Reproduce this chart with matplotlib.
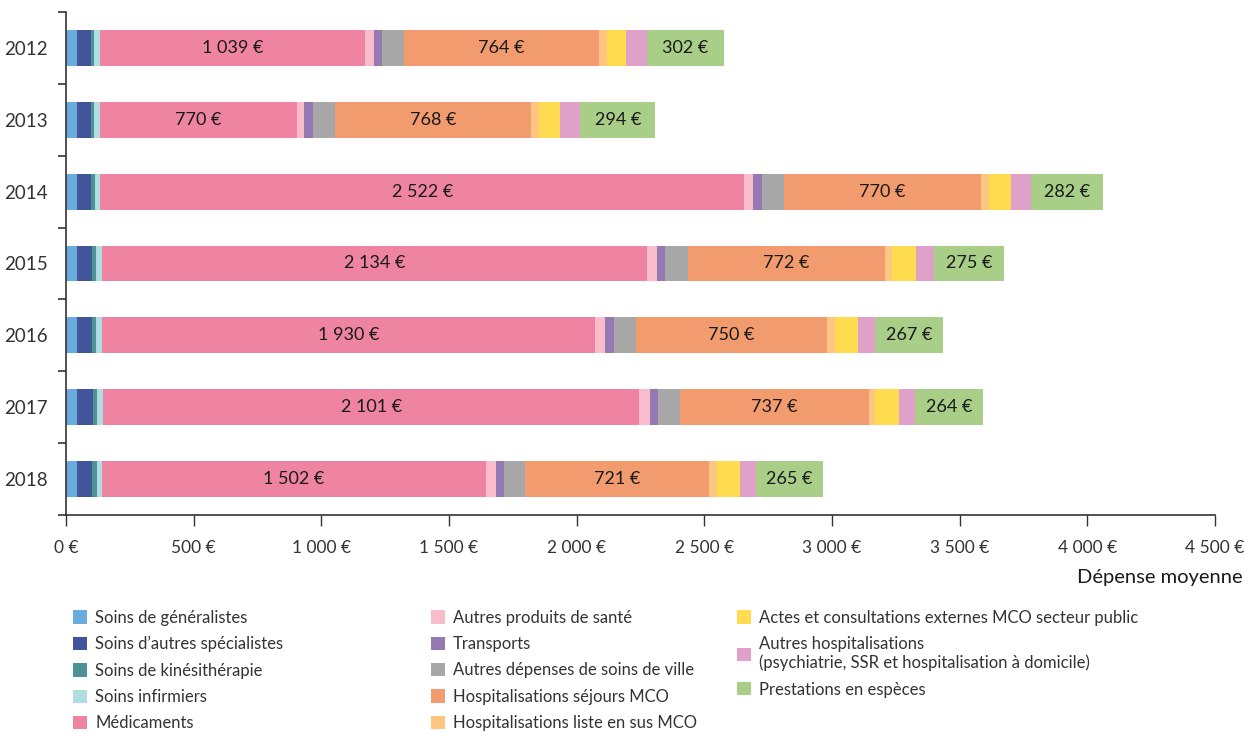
import matplotlib
matplotlib.use("Agg")
import matplotlib.pyplot as plt
from matplotlib.patches import Patch
from matplotlib.ticker import MultipleLocator, FuncFormatter
import numpy as np

plt.rcParams['font.family'] = ['Lato', 'DejaVu Sans']

# Données (dépense moyenne en euros)
annees = ["2012", "2013", "2014", "2015", "2016", "2017", "2018"]

postes = [
    "Soins de généralistes",
    "Soins d\u2019autres spécialistes",
    "Soins de kinésithérapie",
    "Soins infirmiers",
    "Médicaments",
    "Autres produits de santé",
    "Transports",
    "Autres dépenses de soins de ville",
    "Hospitalisations séjours MCO",
    "Hospitalisations liste en sus MCO",
    "Actes et consultations externes MCO secteur public",
    "Autres hospitalisations\n(psychiatrie, SSR et hospitalisation à domicile)",
    "Prestations en espèces",
]

generalistes = [43, 43, 43, 43, 43, 43, 43]
specialistes = [55, 55, 55, 59, 59, 63, 59]
kine = [12, 12, 16, 16, 16, 16, 20]
infirmiers = [23, 23, 20, 23, 23, 23, 20]
medicaments = [1039, 770, 2522, 2134, 1930, 2101, 1502]
autres_produits = [35, 31, 35, 39, 39, 43, 39]
transports = [31, 35, 35, 31, 35, 31, 31]
autres_ville = [85, 86, 86, 90, 86, 86, 82]
sejours_mco = [764, 768, 770, 772, 750, 737, 721]
liste_en_sus = [31, 31, 32, 27, 31, 27, 31]
actes_externes = [74, 82, 89, 94, 90, 94, 90]
autres_hospit = [82, 78, 77, 70, 67, 63, 63]
prestations = [302, 294, 282, 275, 267, 264, 265]

series = [generalistes, specialistes, kine, infirmiers, medicaments,
          autres_produits, transports, autres_ville, sejours_mco,
          liste_en_sus, actes_externes, autres_hospit, prestations]

couleurs = ["#6AABDE", "#42559B", "#4E9393", "#B0DDE1", "#EF84A2",
            "#F8BCCB", "#9479B2", "#A6A7A6", "#F29B6E", "#FDC57F",
            "#FEDB4F", "#E0A1C8", "#A8CE88"]

# postes dont la valeur est affichée dans la barre
avec_etiquette = [4, 8, 12]


def euros(v, pos=None):
    s = f"{int(round(v)):,}".replace(",", " ")
    return s + " €"


fig = plt.figure(figsize=(12.45, 7.33), dpi=100)
ax = fig.add_axes([66 / 1245, 1 - 515 / 733, (1215 - 66) / 1245, (515 - 12) / 733])

y = np.arange(len(annees))
gauche = np.zeros(len(annees))
for i, (valeurs, couleur) in enumerate(zip(series, couleurs)):
    valeurs = np.array(valeurs, dtype=float)
    barres = ax.barh(y, valeurs, left=gauche, height=0.5, color=couleur,
                     edgecolor="none", label=postes[i])
    if i in avec_etiquette:
        ax.bar_label(barres, labels=[euros(v) for v in valeurs],
                     label_type="center", fontsize=13, color="#1a1a1a")
    gauche += valeurs

ax.set_xlim(0, 4500)
ax.set_ylim(6.5, -0.5)
ax.xaxis.set_major_locator(MultipleLocator(500))
ax.xaxis.set_major_formatter(FuncFormatter(euros))
ax.set_yticks(y)
ax.set_yticklabels(annees)
ax.set_yticks(np.arange(-0.5, 7.0, 1.0), minor=True)

ax.tick_params(axis="y", which="major", length=0, pad=13, labelsize=13.5, labelcolor="#333333")
ax.tick_params(axis="y", which="minor", length=6, width=1.2, color="#333333")
ax.tick_params(axis="x", which="major", length=8, width=1, color="#333333",
               pad=10, labelsize=12.5, labelcolor="#333333")

for cote in ["top", "right"]:
    ax.spines[cote].set_visible(False)
for cote in ["left", "bottom"]:
    ax.spines[cote].set_color("#333333")
    ax.spines[cote].set_linewidth(1.2)

fig.text(1243 / 1245, 1 - 577 / 733, "Dépense moyenne", ha="right", va="center",
         fontsize=14.5, color="#1a1a1a")

# légende en trois colonnes
handles = [Patch(facecolor=c, edgecolor="none") for c in couleurs]
groupes = [(0, 5, 66), (5, 10, 424), (10, 13, 730)]
for debut, fin, x_px in groupes:
    fig.legend(handles[debut:fin], postes[debut:fin], loc="upper left",
               bbox_to_anchor=(x_px / 1245, 1 - 603 / 733), frameon=False,
               fontsize=12, handlelength=0.85, handleheight=0.85,
               handletextpad=0.5, labelspacing=0.62, borderaxespad=0,
               labelcolor="#333333")

fig.savefig("out.png", dpi=100)
